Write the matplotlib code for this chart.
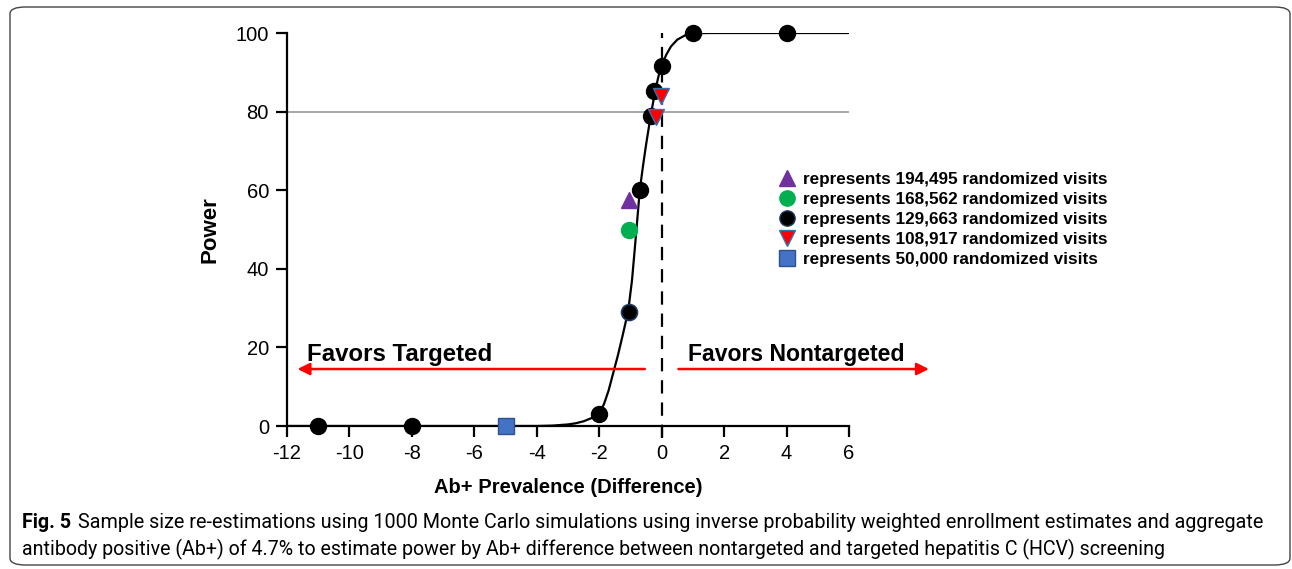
import numpy as np
import matplotlib.pyplot as plt
from matplotlib.lines import Line2D
from matplotlib.patches import FancyBboxPatch

plt.rcParams['font.family'] = ['Liberation Sans', 'DejaVu Sans']
plt.rcParams['axes.unicode_minus'] = False

# fitted power curve
curve_x = [-12, -4, -3.5, -3, -2.75, -2.5, -2.25, -2.0, -1.85, -1.7, -1.55, -1.4,
           -1.25, -1.15, -1.06, -0.95, -0.85, -0.7, -0.6, -0.5, -0.35, -0.2, -0.1,
           0, 0.15, 0.3, 0.5, 0.75, 1.0, 1.5, 6]
curve_y = [0, 0, 0.1, 0.4, 0.7, 1.2, 2.0, 3.4, 5.5, 9, 13.5, 18,
           23, 26.5, 30, 37, 46, 60, 66, 71.5, 79, 85.5, 89,
           91.8, 94.5, 96.6, 98.3, 99.4, 99.9, 100, 100]

# simulated points (129,663 visits)
black_x = [-11, -8, -2, -0.7, -0.35, -0.25, 0, 1, 4]
black_y = [0, 0, 3, 60, 79, 85.3, 91.5, 100, 100]
navy_x = [-1.06]
navy_y = [29]
purple_x = [-1.06]
purple_y = [57.5]
green_x = [-1.06]
green_y = [50]
red_x = [-0.03, -0.19]
red_y = [84, 78.6]
blue_x = [-5]
blue_y = [0]

legend_labels = ['represents 194,495 randomized visits',
                 'represents 168,562 randomized visits',
                 'represents 129,663 randomized visits',
                 'represents 108,917 randomized visits',
                 'represents 50,000 randomized visits']

caption1 = ('Sample size re-estimations using 1000 Monte Carlo simulations using inverse probability '
            'weighted enrollment estimates and aggregate')
caption2 = ('antibody positive (Ab+) of 4.7% to estimate power by Ab+ difference between nontargeted '
            'and targeted hepatitis C (HCV) screening')

fig = plt.figure(figsize=(12.92, 5.69), dpi=100)
ax = fig.add_axes([0.2221, 0.2513, 0.435, 0.6907])

ax.axhline(80, color='#a0a0a0', lw=1.3, zorder=1)
ax.plot([0, 0], [-3, 100], color='black', lw=1.6, ls=(0, (6, 4)), clip_on=False, zorder=2)
ax.plot(curve_x, curve_y, color='black', lw=1.6, zorder=3)

ms = 11.5
ax.plot(black_x, black_y, 'o', color='black', ms=ms, clip_on=False, zorder=4)
ax.plot(navy_x, navy_y, 'o', color='black', mec='#1f3864', mew=1.2, ms=ms, clip_on=False, zorder=4)
ax.plot(purple_x, purple_y, '^', color='#7030a0', ms=ms, clip_on=False, zorder=5)
ax.plot(green_x, green_y, 'o', color='#00b050', ms=ms, clip_on=False, zorder=5)
ax.plot(red_x, red_y, 'v', color='#ff0000', mec='#2e75b6', mew=1.0, ms=ms, clip_on=False, zorder=5)
ax.plot(blue_x, blue_y, 's', color='#4472c4', mec='#2f528f', mew=1.0, ms=11, clip_on=False, zorder=5)

# favours arrows
ax.annotate('', xy=(-11.75, 14.5), xytext=(-0.45, 14.5),
            arrowprops=dict(arrowstyle='-|>', color='red', lw=1.8, mutation_scale=18))
ax.annotate('', xy=(8.65, 14.5), xytext=(0.45, 14.5), annotation_clip=False,
            arrowprops=dict(arrowstyle='-|>', color='red', lw=1.8, mutation_scale=18))
ax.text(-11.35, 18.3, 'Favors Targeted', fontsize=17.3, fontweight='bold', va='center', ha='left')
ax.text(0.85, 18.3, 'Favors Nontargeted', fontsize=16.6, fontweight='bold', va='center', ha='left')

ax.set_xlim(-12, 6)
ax.set_ylim(0, 100)
ax.set_xticks(np.arange(-12, 7, 2))
ax.set_yticks(np.arange(0, 101, 20))
ax.spines['top'].set_visible(False)
ax.spines['right'].set_visible(False)
for s in ['left', 'bottom']:
    ax.spines[s].set_linewidth(1.6)
ax.tick_params(direction='out', length=8, width=1.6, labelsize=14.5, pad=5)
ax.set_xlabel('Ab+ Prevalence (Difference)', fontsize=14.5, fontweight='bold', labelpad=11)
ax.set_ylabel('Power', fontsize=16, fontweight='bold', labelpad=11)

handles = [
    Line2D([], [], marker='^', ls='', color='#7030a0', ms=11),
    Line2D([], [], marker='o', ls='', color='#00b050', ms=11),
    Line2D([], [], marker='o', ls='', color='black', mec='#1f3864', ms=11),
    Line2D([], [], marker='v', ls='', color='#ff0000', mec='#2e75b6', ms=11),
    Line2D([], [], marker='s', ls='', color='#4472c4', mec='#2f528f', ms=11),
]
fig.legend(handles, legend_labels, loc='upper left', bbox_to_anchor=(0.587, 0.725),
           frameon=False, handletextpad=0.1, labelspacing=0.3, handlelength=1.6,
           prop={'size': 12.3, 'weight': 'bold'})

# frame around the figure
fig.patches.append(FancyBboxPatch((10 / 1292, 4 / 569), 1280 / 1292, 558 / 569,
                                  boxstyle='round,pad=0,rounding_size=0.012',
                                  transform=fig.transFigure, fill=False,
                                  ec='#444444', lw=1.0))

cap_font = ['Roboto', 'DejaVu Sans']
t0 = fig.text(22 / 1292, 1 - 523 / 569, 'Fig. 5', fontsize=13.5, fontweight='bold',
              family=cap_font, va='center')
t1 = fig.text(78 / 1292, 1 - 523 / 569, caption1, fontsize=13.5, family=cap_font, va='center')
t2 = fig.text(22 / 1292, 1 - 549 / 569, caption2, fontsize=13.5, family=cap_font, va='center')

# shrink caption lines so they fit the widths seen in the reference
r = fig.canvas.get_renderer()
for t, w in [(t1, 1184), (t2, 1146)]:
    cur = t.get_window_extent(r).width
    t.set_fontsize(13.5 * w / cur)
t0.set_fontsize(t1.get_fontsize())

fig.savefig('out.png', dpi=100)
